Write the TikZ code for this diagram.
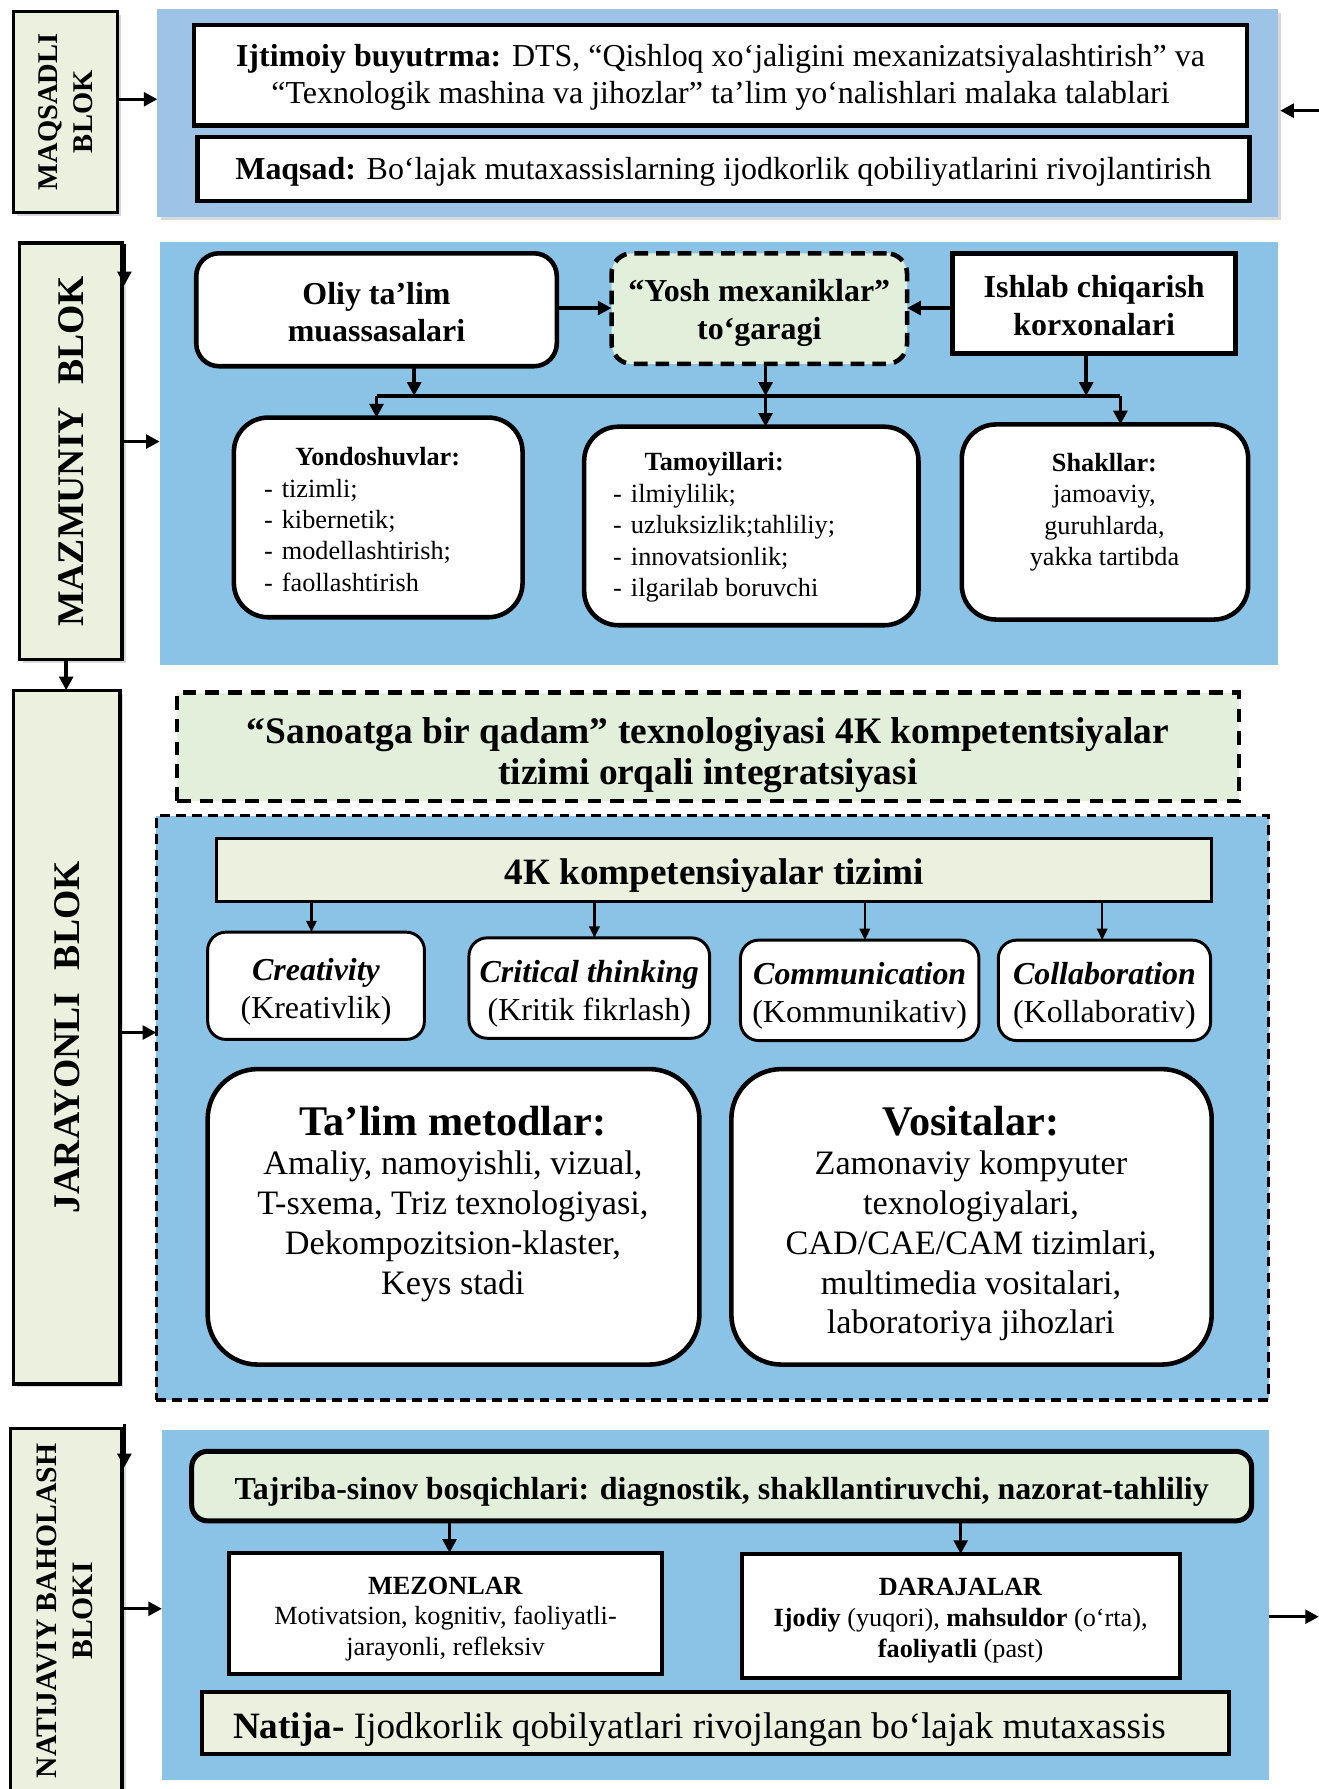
\documentclass[tikz,border=0pt]{standalone}
\usepackage{fontspec}
\setmainfont{Liberation Serif}
\usetikzlibrary{arrows.meta,shadows}
\definecolor{bgA}{HTML}{9DC3E6}
\definecolor{bgB}{HTML}{8AC3E6}
\definecolor{labfill}{HTML}{EBF0DF}
\definecolor{grn}{HTML}{E2EFDA}
\newcommand\fsz[2]{\fontsize{#1}{#2}\selectfont}
% \bx{name}{x1}{y1}{x2}{y2}{shape style}{text style}{text}
\newcommand\bx[8]{\node[#6, minimum width={(#4-(#2))*0.5pt}, minimum height={(#5-(#3))*0.5pt}] (#1) at ({(#2+#4)/2},{(#3+#5)/2}) {};
\node[base, #7] (#1t) at (#1.center) {#8};}
\begin{document}
\begin{tikzpicture}[x=0.5pt,y=-0.5pt,
 base/.style={inner sep=0pt, outer sep=0pt, align=center},
 shad/.style={drop shadow={shadow xshift=1.5pt, shadow yshift=-1.5pt, opacity=0.3}},
 labbox/.style={base, draw, line width=1.5pt, fill=labfill, shad},
 labtext/.style={rotate=90, align=center},
 bgbox/.style={base, fill=bgB},
 wbox/.style={base, draw, line width=2pt, fill=white},
 rbox/.style={wbox, rounded corners=10pt},
 lbox/.style={wbox, rounded corners=15pt},
 cbox/.style={base, draw, line width=1.3pt, fill=white, rounded corners=8pt},
 ctext/.style={font=\fsz{14}{16.5}, yshift=-2.5pt},
 bigbox/.style={wbox, rounded corners=22pt},
 arr/.style={-{Triangle[length=6pt,width=6pt]}, line width=1.5pt},
 sarr/.style={-{Triangle[length=5pt,width=4.5pt]}, line width=1pt},
 ln/.style={line width=1.5pt}
]
\useasboundingbox[fill=white] (0,0) rectangle (1156,1568);

% ---------------- Block 1 ----------------
\bx{bg1}{138}{8}{1120}{190}{bgbox, fill=bgA, shad}{}{}
\bx{lab1}{12}{10}{103}{186}{labbox}{}{}
\node[labtext, font=\bfseries\fsz{12.5}{15}] (lab1t2) at (lab1) {MAQSADLI\\BLOK};
\bx{soc}{170}{22}{1093}{110}{wbox}{font=\fsz{14}{16}, yshift=-1pt}{\textbf{Ijtimoiy buyutrma:} DTS, “Qishloq xo‘jaligini mexanizatsiyalashtirish” va\\“Texnologik mashina va jihozlar” ta’lim yo‘nalishlari malaka talablari}
\bx{goal}{173}{120}{1095}{176}{wbox}{font=\fsz{14}{16}, yshift=-1.5pt}{\textbf{Maqsad:} Bo‘lajak mutaxassislarning ijodkorlik qobiliyatlarini rivojlantirish}
\draw[arr] (lab1.east |- 0,87) -- (bg1.west |- 0,87);
\coordinate (in1) at (1156,97);
\draw[arr] (in1) -- (1122,97);

% ---------------- Block 2 ----------------
\bx{bg2}{140}{212}{1120}{583}{bgbox}{}{}
\bx{lab2}{17}{213}{107}{578}{labbox}{}{}
\node[labtext, font=\bfseries\fsz{16.5}{18}] (lab2t2) at (lab2) {MAZMUNIY\hspace{0.6em}BLOK};
\coordinate (m2a) at (109,214);
\coordinate (m2b) at (109,250);
\draw[arr] (m2a) -- (m2b);
\draw[arr] (lab2.east |- 0,387) -- (bg2.west |- 0,387);

\bx{oliy}{172}{222}{488}{321}{rbox}{font=\bfseries\fsz{14}{16}, yshift=-1pt}{Oliy ta’lim\\muassasalari}
\bx{yosh}{536}{222}{795}{319}{base, draw, line width=2pt, dash pattern=on 6pt off 3.5pt, fill=grn, rounded corners=9pt}{font=\bfseries\fsz{14}{16.5}, yshift=-2pt}{“Yosh mexaniklar”\\to‘garagi}
\bx{ishlab}{835}{222}{1083}{310}{wbox}{font=\bfseries\fsz{14}{16.5}, yshift=-1pt}{Ishlab chiqarish\\korxonalari}
\draw[arr] (oliy.east |- 0,270) -- (yosh.west |- 0,270);
\draw[arr] (ishlab.west |- 0,270) -- (yosh.east |- 0,270);

\bx{yond}{205}{366}{458}{541}{lbox}{}{}
\node[font=\bfseries\fsz{11.5}{13.75}] (yondT) at (331,400) {Yondoshuvlar:};
\node[anchor=west, align=left, font=\fsz{11.5}{13.75}, inner sep=0pt] (yondL) at (231,469) {-\hspace{4pt}tizimli;\\-\hspace{4pt}kibernetik;\\-\hspace{4pt}modellashtirish;\\-\hspace{4pt}faollashtirish};
\bx{tamoy}{512}{374}{805}{548}{lbox}{}{}
\node[font=\bfseries\fsz{11.5}{13.75}] (tamoyT) at (626,407) {Tamoyillari:};
\node[anchor=west, align=left, font=\fsz{11.5}{13.75}, inner sep=0pt] (tamoyL) at (537,476) {-\hspace{4pt}ilmiylilik;\\-\hspace{4pt}uzluksizlik;tahliliy;\\-\hspace{4pt}innovatsionlik;\\-\hspace{4pt}ilgarilab boruvchi};
\bx{shak}{843}{372}{1094}{543}{lbox}{}{}
\node[align=center, font=\fsz{11.5}{13.75}] (shakT) at (968,449) {\textbf{Shakllar:}\\jamoaviy,\\guruhlarda,\\yakka tartibda};

\coordinate (busL) at (330,347);
\coordinate (busR) at (982,347);
\draw[ln] (busL) -- (busR);
\draw[arr] (oliy.south -| 363,0) -- (busL -| 363,0);
\draw[arr] (yosh.south -| 671,0) -- (busL -| 671,0);
\draw[arr] (ishlab.south -| 952,0) -- (busL -| 952,0);
\draw[arr] (busL) -- (yond.north -| busL);
\draw[arr] (busL -| 671,0) -- (tamoy.north -| 671,0);
\draw[arr] (busR) -- (shak.north -| busR);

% ---------------- Block 3 ----------------
\bx{lab3}{12}{605}{105}{1213}{labbox}{}{}
\node[labtext, font=\bfseries\fsz{16.5}{18}] (lab3t2) at (lab3) {JARAYONLI\hspace{0.6em}BLOK};
\draw[arr] (lab2.south -| 58,0) -- (lab3.north -| 58,0);
\bx{sanoat}{155}{607}{1086}{702}{base, draw, line width=2pt, dash pattern=on 6pt off 4pt, fill=grn}{font=\bfseries\fsz{16.4}{18}, yshift=-3.5pt}{“Sanoatga bir qadam” texnologiyasi 4К kompetentsiyalar\\tizimi orqali integratsiyasi}
\bx{bg3}{137}{715}{1112}{1227}{bgbox, draw, line width=1.4pt, dash pattern=on 4.3pt off 2.7pt}{}{}
\draw[arr] (lab3.east |- 0,905) -- (bg3.west |- 0,905);

\bx{k4}{190}{735}{1062}{790}{base, draw, line width=1.5pt, fill=labfill}{font=\bfseries\fsz{16.3}{18}, yshift=-2.5pt}{4К kompetensiyalar tizimi}
\bx{crea}{182}{817}{372}{911}{cbox}{ctext}{\textbf{\textit{Creativity}}\\(Kreativlik)}
\bx{crit}{411}{822}{622}{910}{cbox}{ctext}{\textbf{\textit{Critical thinking}}\\(Kritik fikrlash)}
\bx{comm}{649}{824}{858}{912}{cbox}{ctext}{\textbf{\textit{Communication}}\\(Kommunikativ)}
\bx{coll}{875}{824}{1061}{912}{cbox}{ctext}{\textbf{\textit{Collaboration}}\\(Kollaborativ)}
\draw[sarr] (k4.south -| 273,0) -- (crea.north -| 273,0);
\draw[sarr] (k4.south -| 521,0) -- (crit.north -| 521,0);
\draw[sarr] (k4.south -| 758,0) -- (comm.north -| 758,0);
\draw[sarr] (k4.south -| 966,0) -- (coll.north -| 966,0);

\bx{metod}{182}{937}{613}{1196}{bigbox}{}{}
\node[font=\bfseries\fsz{18.5}{20}] (metodT) at (397,983) {Ta’lim metodlar:};
\node[align=center, font=\fsz{15}{17.5}] (metodL) at (397,1075) {Amaliy, namoyishli, vizual,\\T-sxema, Triz texnologiyasi,\\Dekompozitsion-klaster,\\Keys stadi};
\bx{vosit}{641}{937}{1062}{1196}{bigbox}{}{}
\node[font=\bfseries\fsz{18.5}{20}] (vositT) at (851,983) {Vositalar:};
\node[align=center, font=\fsz{15}{17.5}] (vositL) at (851,1092) {Zamonaviy kompyuter\\texnologiyalari,\\CAD/CAE/CAM tizimlari,\\multimedia vositalari,\\laboratoriya jihozlari};

% ---------------- Block 4 ----------------
\bx{lab4}{9}{1252}{107}{1575}{labbox}{}{}
\node[labtext, font=\bfseries\fsz{13}{16}] (lab4t2) at (57,1412) {NATIJAVIY BAHOLASH\\BLOKI};
\coordinate (m4a) at (109,1248);
\coordinate (m4b) at (109,1286);
\draw[arr] (m4a) -- (m4b);
\bx{bg4}{142}{1253}{1112}{1560}{bgbox}{}{}
\draw[arr] (lab4.east |- 0,1410) -- (bg4.west |- 0,1410);
\coordinate (out4) at (1156,1417);
\draw[arr] (bg4.east |- out4) -- (out4);

\bx{tajr}{168}{1272}{1097}{1333}{base, draw, line width=2.2pt, fill=grn, rounded corners=7pt}{font=\bfseries\fsz{14}{16}, yshift=-2.5pt}{Tajriba-sinov bosqichlari: diagnostik, shakllantiruvchi, nazorat-tahliliy}
\bx{mezon}{201}{1361}{580}{1467}{base, draw, line width=1.8pt, fill=white}{font=\fsz{11.5}{13.5}, yshift=-2.5pt}{\textbf{MEZONLAR}\\Motivatsion, kognitiv, faoliyatli-\\jarayonli, refleksiv}
\bx{daraja}{650}{1362}{1034}{1471}{base, draw, line width=1.8pt, fill=white}{font=\fsz{11.5}{13.5}, yshift=-2pt}{\textbf{DARAJALAR}\\\textbf{Ijodiy} (yuqori), \textbf{mahsuldor} (o‘rta),\\\textbf{faoliyatli} (past)}
\draw[arr] (tajr.south -| 394,0) -- (mezon.north -| 394,0);
\draw[arr] (tajr.south -| 842,0) -- (daraja.north -| 842,0);
\bx{natija}{177}{1483}{1077}{1537}{base, draw, line width=1.8pt, fill=labfill}{font=\fsz{16.3}{18}, yshift=-3pt, xshift=-7pt}{\textbf{Natija-} Ijodkorlik qobilyatlari rivojlangan bo‘lajak mutaxassis}
\end{tikzpicture}
\end{document}
